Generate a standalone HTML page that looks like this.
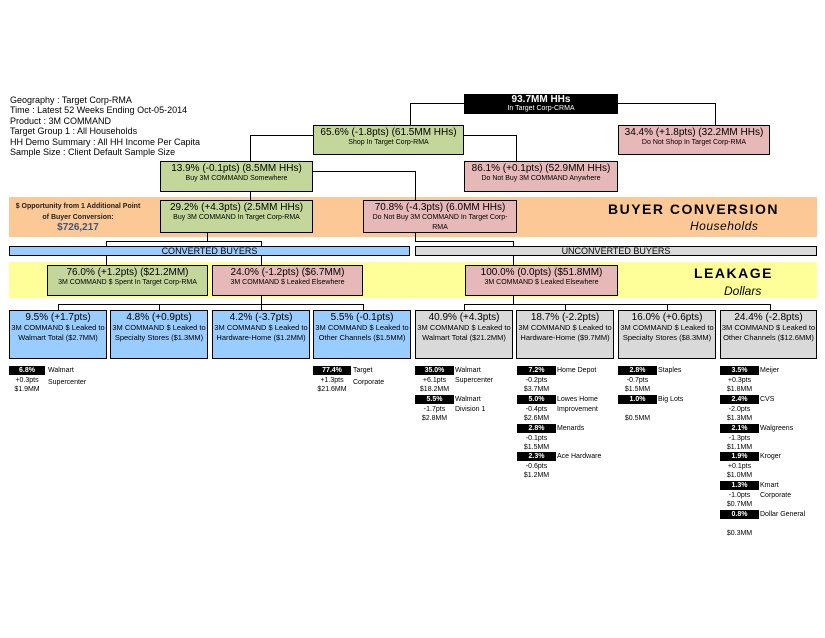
<!DOCTYPE html>
<html><head><meta charset="utf-8"><style>
*{margin:0;padding:0;box-sizing:border-box}
body{width:825px;height:638px;background:#fff;position:relative;overflow:hidden;font-family:"Liberation Sans",Arial,sans-serif;color:#000}
div{position:absolute}
.b{border:1.5px solid #000;text-align:center;white-space:nowrap;overflow:visible}
.t{font-size:10px;line-height:11px;padding-top:1px}
.s{font-size:7px;line-height:9px}
.l{font-size:7.5px;line-height:14px}
.g{background:#c4d79b}.p{background:#e6b8b7}.bl{background:#99ccff}.gr{background:#d9d9d9}
.h{background:#000}.v{background:#000}
.k{background:#000;color:#fff;font-size:7px;font-weight:bold;text-align:center;line-height:9px;height:9px;width:39px}
.n{font-size:7px;line-height:9px;white-space:nowrap}
.c{font-size:7px;line-height:9px;text-align:center;width:39px}
</style></head><body>
<div style="left:10px;top:95px;font-size:9px;line-height:10.4px;white-space:nowrap">Geography : Target Corp-RMA<br>Time : Latest 52 Weeks Ending Oct-05-2014<br>Product : 3M COMMAND<br>Target Group 1 : All Households<br>HH Demo Summary : All HH Income Per Capita<br>Sample Size : Client Default Sample Size</div>

<!-- bands -->
<div style="left:9px;top:197px;width:808px;height:40px;background:#fcc996"></div>
<div style="left:9px;top:262px;width:808px;height:36px;background:#ffff99"></div>
<div style="left:8px;top:201px;width:140px;font-size:7px;font-weight:bold;line-height:11px;text-align:center;color:#222;white-space:nowrap">$ Opportunity from 1 Additional Point<br>of Buyer Conversion:</div>
<div style="left:8px;top:222px;width:140px;font-size:10px;font-weight:bold;text-align:center;color:#44547a">$726,217</div>
<div style="left:608px;top:201px;font-size:14px;font-weight:bold;letter-spacing:1.5px">BUYER CONVERSION</div>
<div style="left:690px;top:219px;font-size:12px;font-style:italic;letter-spacing:.5px">Households</div>
<div style="left:694px;top:265px;font-size:14px;font-weight:bold;letter-spacing:1.5px">LEAKAGE</div>
<div style="left:724px;top:284px;font-size:12px;font-style:italic">Dollars</div>

<!-- connectors -->
<div class="h" style="left:410px;top:103px;width:55px;height:1px"></div>
<div class="v" style="left:410px;top:103px;width:1px;height:22px"></div>
<div class="h" style="left:617px;top:103px;width:98px;height:1px"></div>
<div class="v" style="left:715px;top:103px;width:1px;height:22px"></div>
<div class="h" style="left:250px;top:135px;width:64px;height:1px"></div>
<div class="v" style="left:250px;top:135px;width:1px;height:26px"></div>
<div class="h" style="left:463px;top:135px;width:53px;height:1px"></div>
<div class="v" style="left:516px;top:135px;width:1px;height:26px"></div>
<div class="v" style="left:250px;top:191px;width:1px;height:10px"></div>
<div class="h" style="left:312px;top:171px;width:103px;height:1px"></div>
<div class="v" style="left:415px;top:171px;width:1px;height:30px"></div>
<div class="v" style="left:207px;top:232px;width:1px;height:9px"></div>
<div class="h" style="left:106px;top:241px;width:156px;height:1px"></div>
<div class="v" style="left:106px;top:241px;width:1px;height:6px"></div>
<div class="v" style="left:261px;top:241px;width:1px;height:6px"></div>
<div class="v" style="left:415px;top:232px;width:1px;height:9px"></div>
<div class="h" style="left:415px;top:241px;width:99px;height:1px"></div>
<div class="v" style="left:513px;top:241px;width:1px;height:6px"></div>
<div class="v" style="left:106px;top:255px;width:1px;height:11px"></div>
<div class="v" style="left:261px;top:255px;width:1px;height:11px"></div>
<div class="v" style="left:513px;top:255px;width:1px;height:11px"></div>
<div class="v" style="left:261px;top:295px;width:1px;height:9px"></div>
<div class="h" style="left:58px;top:304px;width:306px;height:1px"></div>
<div class="v" style="left:58px;top:304px;width:1px;height:7px"></div>
<div class="v" style="left:159px;top:304px;width:1px;height:7px"></div>
<div class="v" style="left:261px;top:304px;width:1px;height:7px"></div>
<div class="v" style="left:363px;top:304px;width:1px;height:7px"></div>
<div class="v" style="left:513px;top:295px;width:1px;height:9px"></div>
<div class="h" style="left:464px;top:304px;width:307px;height:1px"></div>
<div class="v" style="left:464px;top:304px;width:1px;height:7px"></div>
<div class="v" style="left:565px;top:304px;width:1px;height:7px"></div>
<div class="v" style="left:667px;top:304px;width:1px;height:7px"></div>
<div class="v" style="left:770px;top:304px;width:1px;height:7px"></div>

<!-- boxes -->
<div class="b" style="left:464px;top:94px;width:154px;height:20px;background:#000;color:#fff"><div style="position:static;font-size:10px;line-height:10px;font-weight:bold">93.7MM HHs</div><div class="s" style="position:static;line-height:7px">In Target Corp-CRMA</div></div>
<div class="b g" style="left:313px;top:125px;width:151px;height:30px"><div class="t" style="position:static">65.6% (-1.8pts) (61.5MM HHs)</div><div class="s" style="position:static">Shop In Target Corp-RMA</div></div>
<div class="b p" style="left:618px;top:125px;width:152px;height:30px"><div class="t" style="position:static">34.4% (+1.8pts) (32.2MM HHs)</div><div class="s" style="position:static">Do Not Shop In Target Corp-RMA</div></div>
<div class="b g" style="left:160px;top:161px;width:153px;height:31px"><div class="t" style="position:static">13.9% (-0.1pts) (8.5MM HHs)</div><div class="s" style="position:static">Buy 3M COMMAND Somewhere</div></div>
<div class="b p" style="left:464px;top:161px;width:154px;height:31px"><div class="t" style="position:static">86.1% (+0.1pts) (52.9MM HHs)</div><div class="s" style="position:static">Do Not Buy 3M COMMAND Anywhere</div></div>
<div class="b g" style="left:160px;top:200px;width:153px;height:33px"><div class="t" style="position:static">29.2% (+4.3pts) (2.5MM HHs)</div><div class="s" style="position:static">Buy 3M COMMAND In Target Corp-RMA</div></div>
<div class="b p" style="left:363px;top:200px;width:154px;height:33px"><div class="t" style="position:static">70.8% (-4.3pts) (6.0MM HHs)</div><div class="s" style="position:static;line-height:10px">Do Not Buy 3M COMMAND In Target Corp-<br>RMA</div></div>

<div class="b bl" style="left:9px;top:246px;width:401px;height:10px;font-size:9px;line-height:8px">CONVERTED BUYERS</div>
<div class="b gr" style="left:415px;top:246px;width:402px;height:10px;font-size:9px;line-height:8px">UNCONVERTED BUYERS</div>

<div class="b g" style="left:47px;top:265px;width:161px;height:31px"><div class="t" style="position:static">76.0% (+1.2pts) ($21.2MM)</div><div class="s" style="position:static">3M COMMAND $ Spent In Target Corp-RMA</div></div>
<div class="b p" style="left:212px;top:265px;width:151px;height:31px"><div class="t" style="position:static">24.0% (-1.2pts) ($6.7MM)</div><div class="s" style="position:static">3M COMMAND $ Leaked Elsewhere</div></div>
<div class="b p" style="left:465px;top:265px;width:153px;height:31px"><div class="t" style="position:static">100.0% (0.0pts) ($51.8MM)</div><div class="s" style="position:static">3M COMMAND $ Leaked Elsewhere</div></div>

<div class="b bl" style="left:9px;top:310px;width:98px;height:49px"><div class="t" style="position:static">9.5% (+1.7pts)</div><div class="l" style="position:static;line-height:10px">3M COMMAND $ Leaked to</div><div class="l" style="position:static;line-height:10px">Walmart Total ($2.7MM)</div></div>
<div class="b bl" style="left:110px;top:310px;width:98px;height:49px"><div class="t" style="position:static">4.8% (+0.9pts)</div><div class="l" style="position:static;line-height:10px">3M COMMAND $ Leaked to</div><div class="l" style="position:static;line-height:10px">Specialty Stores ($1.3MM)</div></div>
<div class="b bl" style="left:212px;top:310px;width:98px;height:49px"><div class="t" style="position:static">4.2% (-3.7pts)</div><div class="l" style="position:static;line-height:10px">3M COMMAND $ Leaked to</div><div class="l" style="position:static;line-height:10px">Hardware-Home ($1.2MM)</div></div>
<div class="b bl" style="left:313px;top:310px;width:98px;height:49px"><div class="t" style="position:static">5.5% (-0.1pts)</div><div class="l" style="position:static;line-height:10px">3M COMMAND $ Leaked to</div><div class="l" style="position:static;line-height:10px">Other Channels ($1.5MM)</div></div>
<div class="b gr" style="left:415px;top:310px;width:98px;height:49px"><div class="t" style="position:static">40.9% (+4.3pts)</div><div class="l" style="position:static;line-height:10px">3M COMMAND $ Leaked to</div><div class="l" style="position:static;line-height:10px">Walmart Total ($21.2MM)</div></div>
<div class="b gr" style="left:516px;top:310px;width:98px;height:49px"><div class="t" style="position:static">18.7% (-2.2pts)</div><div class="l" style="position:static;line-height:10px">3M COMMAND $ Leaked to</div><div class="l" style="position:static;line-height:10px">Hardware-Home ($9.7MM)</div></div>
<div class="b gr" style="left:618px;top:310px;width:98px;height:49px"><div class="t" style="position:static">16.0% (+0.6pts)</div><div class="l" style="position:static;line-height:10px">3M COMMAND $ Leaked to</div><div class="l" style="position:static;line-height:10px">Specialty Stores ($8.3MM)</div></div>
<div class="b gr" style="left:720px;top:310px;width:97px;height:49px"><div class="t" style="position:static">24.4% (-2.8pts)</div><div class="l" style="position:static;line-height:10px">3M COMMAND $ Leaked to</div><div class="l" style="position:static;line-height:10px">Other Channels ($12.6MM)</div></div>

<!-- small items -->
<div class="k" style="left:9px;top:366px;width:36px">6.8%</div><div class="n" style="left:48px;top:366px">Walmart<br><span style="line-height:16px">Supercenter</span></div><div class="c" style="left:9px;top:376px;width:36px">+0.3pts<br>$1.9MM</div>
<div class="k" style="left:313px;top:366px;width:38px">77.4%</div><div class="n" style="left:353px;top:366px">Target<br><span style="line-height:16px">Corporate</span></div><div class="c" style="left:313px;top:376px;width:38px">+1.3pts<br>$21.6MM</div>

<div class="k" style="left:415px;top:366px">35.0%</div><div class="n" style="left:455px;top:366px;line-height:10px">Walmart<br>Supercenter</div><div class="c" style="left:415px;top:376px">+6.1pts<br>$18.2MM</div>
<div class="k" style="left:415px;top:395px">5.5%</div><div class="n" style="left:455px;top:395px;line-height:10px">Walmart<br>Division 1</div><div class="c" style="left:415px;top:405px">-1.7pts<br>$2.8MM</div>

<div class="k" style="left:517px;top:366px">7.2%</div><div class="n" style="left:557px;top:366px">Home Depot</div><div class="c" style="left:517px;top:376px">-0.2pts<br>$3.7MM</div>
<div class="k" style="left:517px;top:395px">5.0%</div><div class="n" style="left:557px;top:395px;line-height:10px">Lowes Home<br>Improvement</div><div class="c" style="left:517px;top:405px">-0.4pts<br>$2.6MM</div>
<div class="k" style="left:517px;top:424px">2.8%</div><div class="n" style="left:557px;top:424px">Menards</div><div class="c" style="left:517px;top:434px">-0.1pts<br>$1.5MM</div>
<div class="k" style="left:517px;top:452px">2.3%</div><div class="n" style="left:557px;top:452px">Ace Hardware</div><div class="c" style="left:517px;top:462px">-0.6pts<br>$1.2MM</div>

<div class="k" style="left:618px;top:366px">2.8%</div><div class="n" style="left:658px;top:366px">Staples</div><div class="c" style="left:618px;top:376px">-0.7pts<br>$1.5MM</div>
<div class="k" style="left:618px;top:395px">1.0%</div><div class="n" style="left:658px;top:395px">Big Lots</div><div class="c" style="left:618px;top:414px">$0.5MM</div>

<div class="k" style="left:720px;top:366px">3.5%</div><div class="n" style="left:760px;top:366px">Meijer</div><div class="c" style="left:720px;top:376px">+0.3pts<br>$1.8MM</div>
<div class="k" style="left:720px;top:395px">2.4%</div><div class="n" style="left:760px;top:395px">CVS</div><div class="c" style="left:720px;top:405px">-2.0pts<br>$1.3MM</div>
<div class="k" style="left:720px;top:424px">2.1%</div><div class="n" style="left:760px;top:424px">Walgreens</div><div class="c" style="left:720px;top:434px">-1.3pts<br>$1.1MM</div>
<div class="k" style="left:720px;top:452px">1.9%</div><div class="n" style="left:760px;top:452px">Kroger</div><div class="c" style="left:720px;top:462px">+0.1pts<br>$1.0MM</div>
<div class="k" style="left:720px;top:481px">1.3%</div><div class="n" style="left:760px;top:481px;line-height:10px">Kmart<br>Corporate</div><div class="c" style="left:720px;top:491px">-1.0pts<br>$0.7MM</div>
<div class="k" style="left:720px;top:510px">0.8%</div><div class="n" style="left:760px;top:510px">Dollar General</div><div class="c" style="left:720px;top:529px">$0.3MM</div>
</body></html>
